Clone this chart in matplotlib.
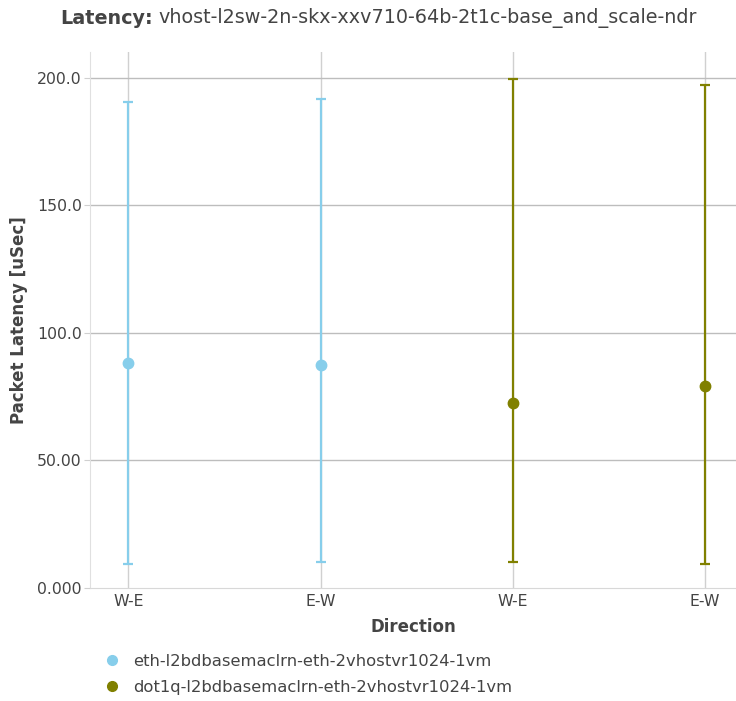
import matplotlib
matplotlib.use("Agg")
from matplotlib import pyplot as plt
from matplotlib.lines import Line2D

# data
directions = ["W-E", "E-W", "W-E", "E-W"]
series_names = ["eth-l2bdbasemaclrn-eth-2vhostvr1024-1vm",
                "dot1q-l2bdbasemaclrn-eth-2vhostvr1024-1vm"]
series_colors = ["#87CEEB", "#808000"]
series_pos = [[0, 1], [2, 3]]
series_avg = [[88.0, 87.3], [72.6, 79.0]]
series_min = [[9.4, 10.2], [10.2, 9.4]]
series_max = [[190.6, 191.4], [199.3, 196.9]]
yticks = [0, 50, 100, 150, 200]
ytick_labels = ["0.000", "50.00", "100.0", "150.0", "200.0"]

txt = "#444444"
fig = plt.figure(figsize=(7.36, 7.01), dpi=100)
ax = fig.add_axes([90/736, (701-588)/701, 1 - 90/736, (588-52)/701])

for k in range(len(directions)):
    ax.axvline(k, color="#d0d0d0", lw=1, zorder=0)
for t in yticks[1:]:
    ax.axhline(t, color="#bdbdbd", lw=1, zorder=0)

for name, col, pos, avg, lo, hi in zip(series_names, series_colors, series_pos,
                                        series_avg, series_min, series_max):
    err_lo = [a - l for a, l in zip(avg, lo)]
    err_hi = [h - a for a, h in zip(avg, hi)]
    ax.errorbar(pos, avg, yerr=[err_lo, err_hi], fmt="o", color=col, ms=7.5,
                elinewidth=1.6, capsize=3.5, capthick=1.6, zorder=3, label=name)

ax.set_xlim(-0.2, 3.16)
ax.set_ylim(0, 210)
ax.set_xticks(range(len(directions)))
ax.set_xticklabels(directions)
ax.set_yticks(yticks)
ax.set_yticklabels(ytick_labels)
ax.tick_params(axis="both", colors=txt, labelsize=11.3)
ax.tick_params(axis="x", length=0, pad=4)
ax.tick_params(axis="y", length=4, color="#d0d0d0", pad=2)
for side in ["top", "right"]:
    ax.spines[side].set_visible(False)
ax.spines["left"].set_color("#e0e0e0")
ax.spines["bottom"].set_color("#d8d8d8")

ax.set_xlabel("Direction", fontsize=12, fontweight="bold", color=txt, labelpad=7)
ax.set_ylabel("Packet Latency [uSec]", fontsize=12, fontweight="bold", color=txt, labelpad=6)

# title: bold prefix + normal rest
fig.text(153/736, 1 - 18/701, "Latency:", ha="right", va="center",
         fontsize=13.8, fontweight="bold", color=txt)
fig.text(158/736, 1 - 18/701, "vhost-l2sw-2n-skx-xxv710-64b-2t1c-base_and_scale-ndr",
         ha="left", va="center", fontsize=13.8, color=txt)

handles = [Line2D([], [], ls="none", marker="o", ms=7, color=c) for c in series_colors]
fig.legend(handles, series_names, loc="upper left", bbox_to_anchor=(102/736, 1 - 654/701),
           frameon=False, fontsize=11.8, labelcolor=txt, handletextpad=0.68,
           labelspacing=0.66, handlelength=1.2, borderpad=0, borderaxespad=0)

fig.savefig("out.png", dpi=100)
